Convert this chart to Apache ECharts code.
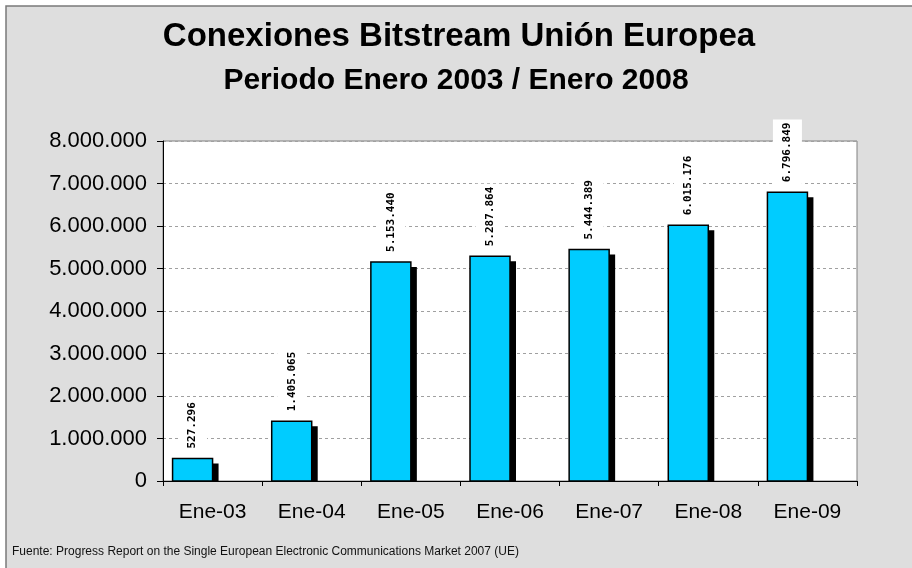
<!DOCTYPE html>
<html><head><meta charset="utf-8">
<script src="https://cdn.jsdelivr.net/npm/echarts@6/dist/echarts.min.js"></script>
<style>html,body{margin:0;padding:0;background:#fff}#c{width:912px;height:568px}</style>
</head><body><div id="c"></div>
<script>
const categories = ['Ene-03','Ene-04','Ene-05','Ene-06','Ene-07','Ene-08','Ene-09'];
const values = [527296, 1405065, 5153440, 5287864, 5444389, 6015176, 6796849];
const valueLabels = ['527.296','1.405.065','5.153.440','5.287.864','5.444.389','6.015.176','6.796.849'];
const yTicks = [0,1000000,2000000,3000000,4000000,5000000,6000000,7000000,8000000];
const titleLine1 = 'Conexiones Bitstream Unión Europea';
const titleLine2 = 'Periodo Enero 2003 / Enero 2008';
const sourceNote = 'Fuente: Progress Report on the Single European Electronic Communications Market 2007 (UE)';

function fmt(v){return String(v).replace(/\B(?=(\d{3})+(?!\d))/g,'.');}

const chart = echarts.init(document.getElementById('c'));
const FONT = '"Liberation Sans", Arial, sans-serif';
chart.setOption({
  animation:false,
  backgroundColor:'#ffffff',
  graphic:[
    {type:'rect', z:-10, shape:{x:6,y:6,width:930,height:590}, style:{fill:'#dedede', stroke:'#7a7a7a', lineWidth:1.5}},
    {type:'text', x:459, y:37, style:{text:titleLine1, font:'bold 33px '+FONT, fill:'#000', align:'center', verticalAlign:'middle'}},
    {type:'text', x:456, y:81, style:{text:titleLine2, font:'bold 30px '+FONT, fill:'#000', align:'center', verticalAlign:'middle'}},
    {type:'text', x:12, y:552, style:{text:sourceNote, font:'12px '+FONT, fill:'#111', verticalAlign:'middle'}}
  ],
  grid:{left:163, top:141, width:694, height:340, show:true, backgroundColor:'#ffffff', borderColor:'#808080', borderWidth:1},
  xAxis:{
    type:'category', data:categories,
    axisLine:{lineStyle:{color:'#000', width:1}},
    axisTick:{show:true, length:5, lineStyle:{color:'#000'}},
    axisLabel:{color:'#000', fontSize:21, fontFamily:FONT, margin:21}
  },
  yAxis:{
    type:'value', min:0, max:8000000, interval:1000000,
    axisLine:{show:true, lineStyle:{color:'#000'}},
    axisTick:{show:true, length:6, lineStyle:{color:'#000'}},
    axisLabel:{color:'#000', fontSize:22, fontFamily:FONT, margin:16, formatter:v=>fmt(v)},
    splitLine:{show:true, lineStyle:{color:'#a0a0a0', type:[3,3]}}
  },
  series:[{
    type:'custom',
    data:values.map((v,i)=>[i,v]),
    renderItem:function(params, api){
      const i = api.value(0), v = api.value(1);
      const top = api.coord([i, v]);
      const base = api.coord([i, 0]);
      const cx = top[0];
      const bw = 40;
      const x0 = cx - bw;
      return {type:'group', children:[
        {type:'rect', shape:{x:x0+6, y:top[1]+5, width:bw, height:base[1]-top[1]-5}, style:{fill:'#000'}},
        {type:'rect', shape:{x:x0, y:top[1], width:bw, height:base[1]-top[1]}, style:{fill:'#00ccff', stroke:'#000', lineWidth:1.5}},
        {type:'text', x:x0+bw/2, y:top[1]-8, rotation:Math.PI/2,
          style:{text:valueLabels[i], font:'bold 11px "DejaVu Sans Mono", monospace', fill:'#000', align:'left', verticalAlign:'middle', backgroundColor:'#fff', padding:[9,3,9,2]}}
      ]};
    }
  }]
});
</script></body></html>
